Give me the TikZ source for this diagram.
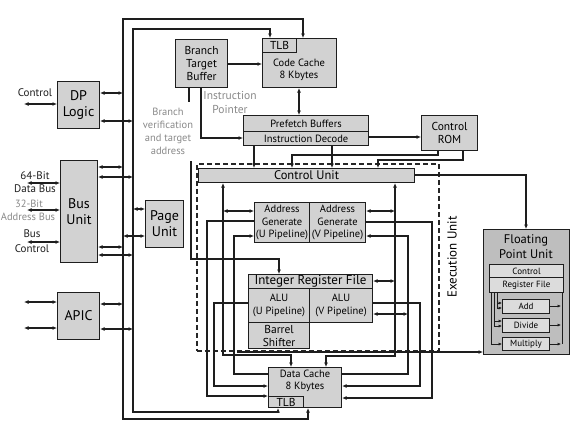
\documentclass[tikz,border=0pt]{standalone}
\usepackage{fontspec}
\setmainfont{PT Sans}
\usetikzlibrary{arrows.meta}
\definecolor{boxgray}{HTML}{D2D2D2}
\definecolor{fpugray}{HTML}{BEBEBE}
\definecolor{fpuin}{HTML}{DCDCDC}
\definecolor{lbl}{HTML}{8A8A8A}
\definecolor{ink}{HTML}{1E1E1E}
\begin{document}
\begin{tikzpicture}[x=1pt,y=-1pt,
  >={Latex[length=4.5pt,width=4pt]},
  line width=1.2pt, draw=ink,
  box/.style={draw=ink, fill=boxgray, line width=1.1pt, inner sep=0pt, align=center, anchor=north west},
  big/.style={font=\fontsize{14}{16}\selectfont},
  mid/.style={font=\fontsize{11.5}{13}\selectfont},
  sml/.style={font=\fontsize{10.5}{12.5}\selectfont},
  tiny/.style={font=\fontsize{9}{10}\selectfont},
  glabel/.style={text=lbl, align=center, inner sep=0pt, font=\fontsize{10.5}{13}\selectfont},
  dlabel/.style={text=ink, align=center, inner sep=0pt, font=\fontsize{11}{13}\selectfont},
  small>/.style={-{Latex[length=3.5pt,width=3.2pt]}}
]
\useasboundingbox[fill=white] (0,0) rectangle (583,432);

% ---------- left blocks ----------
\node[box,big,minimum width=42pt,minimum height=47pt] (dp) at (57,81) {DP\\Logic};
\node[box,big,minimum width=37pt,minimum height=102pt] (bus) at (60,160) {Bus\\Unit};
\node[box,big,minimum width=42pt,minimum height=47pt] (apic) at (57,292) {APIC};
\node[box,big,minimum width=38pt,minimum height=47pt] (page) at (145,200) {Page\\Unit};

% ---------- front end ----------
\node[box,mid,minimum width=52pt,minimum height=48pt] (btb) at (175,39) {Branch\\Target\\Buffer};
\node[box,minimum width=74pt,minimum height=49pt] (cc) at (262,38) {};
\node[box,mid,minimum width=34pt,minimum height=14pt] (ctlb) at (262,38) {TLB};
\node[sml,align=center] (cctext) at (299,70) {Code Cache\\8 Kbytes};
\node[box,sml,minimum width=125pt,minimum height=16pt] (pf) at (243,115) {Prefetch Buffers};
\node[box,sml,minimum width=125pt,minimum height=14pt] (idec) at (243,131) {Instruction Decode};
\node[box,mid,minimum width=56pt,minimum height=35pt] (rom) at (421,115) {Control\\ROM};

% ---------- execution unit ----------
\node[draw=black!85, dash pattern=on 5pt off 3pt, line width=1.6pt, anchor=north west,
      minimum width=242pt, minimum height=187pt, inner sep=0pt] (exec) at (196,163) {};
\node[rotate=90, font=\fontsize{13}{15}\selectfont] (execlbl) at (452,257) {Execution Unit};
\node[box,font=\fontsize{12.5}{14}\selectfont,minimum width=216pt,minimum height=14pt] (cu) at (198,168) {Control Unit};
\node[box,sml,minimum width=55pt,minimum height=40pt] (agu) at (254,202) {Address\\Generate\\(U Pipeline)};
\node[box,sml,minimum width=56pt,minimum height=40pt] (agv) at (309,202) {Address\\Generate\\(V Pipeline)};
\node[box,font=\fontsize{13}{15}\selectfont,minimum width=124pt,minimum height=14pt] (irf) at (248,274) {Integer Register File};
\node[box,sml,minimum width=61pt,minimum height=34pt] (aluu) at (248,288) {ALU\\(U Pipeline)};
\node[box,sml,minimum width=63pt,minimum height=34pt] (aluv) at (309,288) {ALU\\(V Pipeline)};
\node[box,mid,minimum width=61pt,minimum height=26pt] (bs) at (248,322) {Barrel\\Shifter};

% ---------- data cache ----------
\node[box,minimum width=73pt,minimum height=40pt] (dc) at (268,367) {};
\node[box,mid,minimum width=35pt,minimum height=11pt] (dtlb) at (268,396) {TLB};
\node[sml,align=center] (dctext) at (305,381) {Data Cache\\8 Kbytes};

% ---------- FPU ----------
\node[box,fill=fpugray,minimum width=86pt,minimum height=125pt] (fpu) at (483,229) {};
\node[font=\fontsize{12.5}{15}\selectfont,align=center] (fputext) at (526,247) {Floating\\Point Unit};
\node[box,fill=fpuin,tiny,minimum width=74pt,minimum height=13pt] (fctl) at (489,264) {Control};
\node[box,fill=fpuin,tiny,minimum width=74pt,minimum height=15pt] (freg) at (489,277) {Register File};
\node[box,fill=fpuin,tiny,minimum width=47pt,minimum height=14pt] (fadd) at (502,299) {Add};
\node[box,fill=fpuin,tiny,minimum width=47pt,minimum height=14pt] (fdiv) at (502,318) {Divide};
\node[box,fill=fpuin,tiny,minimum width=47pt,minimum height=13pt] (fmul) at (502,337) {Multiply};

% ---------- labels ----------
\node[dlabel] (lctl) at (35,93) {Control};
\node[dlabel] (l64) at (35,176) {64-Bit};
\node[dlabel] (ldb) at (35,189) {Data Bus};
\node[glabel] (l32) at (29,204) {32-Bit};
\node[glabel] (lab) at (28,217) {Address Bus};
\node[dlabel] (lbus) at (32,234) {Bus};
\node[dlabel] (lbc) at (32,249) {Control};
\node[glabel] (lbv) at (168,131) {Branch\\verification\\and target\\address};
\node[glabel,font=\fontsize{11.5}{14}\selectfont] (lip) at (230,102) {Instruction\\Pointer};

% ---------- system buses ----------
\draw[<->] (cc.north -| 303,0) -- (303,19) -- (123,19) -- (123,419) -- (308,419) -- (dc.south -| 308,0);
\draw[<->] (ctlb.north -| 270,0) -- (270,29) -- (133,29) -- (133,412) -- (278,412) -- (dtlb.south -| 278,0);

% ---------- left connectors ----------
\draw[<->] (dp.east |- 0,93) -- (123,93);
\draw[<->] (dp.east |- 0,121) -- (133,121);
\draw[<->] (24,104) -- (dp.west |- 0,104);
\draw[<->] (bus.east |- 0,167) -- (123,167);
\draw[<->] (bus.east |- 0,177) -- (133,177);
\draw[<->] (bus.east |- 0,247) -- (123,247);
\draw[<->] (bus.east |- 0,255) -- (133,255);
\draw[<->] (27,183) -- (bus.west |- 0,183);
\draw[<->] (27,210) -- (bus.west |- 0,210);
\draw[<->] (27,242) -- (bus.west |- 0,242);
\draw[<->] (24,302) -- (apic.west |- 0,302);
\draw[<->] (24,328) -- (apic.west |- 0,328);
\draw[<->] (apic.east |- 0,304) -- (123,304);
\draw[<->] (apic.east |- 0,329) -- (133,329);
\draw[<->] (133,209) -- (page.west |- 0,209);
\draw[<->] (123,236) -- (page.west |- 0,236);

% ---------- front end connectors ----------
\draw[->] (btb.east |- 0,64) -- (cc.west |- 0,64);
\draw (btb.south -| 189,0) -- (189,102);
\draw[->] (btb.south -| 201,0) -- (201,138) -- (idec.west |- 0,138);
\draw[<->] (cc.south -| 299,0) -- (pf.north -| 299,0);
\draw[->] (idec.east |- 0,137) -- (rom.west |- 0,137);
\draw[->] (idec.south -| 254,0) -- (cu.north -| 254,0);
\draw[->] (idec.south -| 332,0) -- (cu.north -| 332,0);
\draw[->] (rom.south -| 438,0) -- (438,155) -- (292,155) -- (cu.north -| 292,0);
\draw[->] (rom.south -| 463,0) -- (463,160) -- (378,160) -- (cu.north -| 378,0);
\draw[->] (cu.east |- 0,175) -- (526,175) -- (fpu.north -| 526,0);
\draw[->] (191,161) -- (191,259) -- (279,259) -- (irf.north -| 279,0);

% ---------- execution unit connectors (left) ----------
\draw[<->] (cu.south -| 223,0) -- (223,355) -- (291,355) -- (dc.north -| 291,0);
\draw[<->] (223,211) -- (agu.west |- 0,211);
\draw[->] (agu.west |- 0,221) -- (207,221) -- (207,396) -- (dc.west |- 0,396);
\draw[->] (aluu.west |- 0,303) -- (214,303) -- (214,386) -- (dc.west |- 0,386);
\draw[->] (dc.west |- 0,374) -- (234,374) -- (234,236) -- (agu.west |- 0,236);

% ---------- execution unit connectors (right) ----------
\draw[<->] (cu.south -| 395,0) -- (395,356) -- (326,356) -- (dc.north -| 326,0);
\draw[<->] (agv.east |- 0,211) -- (395,211);
\draw[<->] (irf.east |- 0,281) -- (395,281);
\draw[->] (agv.east |- 0,222) -- (432,222) -- (432,398) -- (dc.east |- 0,398);
\draw[->] (aluv.east |- 0,303) -- (420,303) -- (420,386) -- (dc.east |- 0,386);
\draw[->] (dc.east |- 0,374) -- (408,374) -- (408,236) -- (agv.east |- 0,236);
\draw[<->] (aluv.east |- 0,314) -- (408,314);
\draw[->] (237,352) -- (fpu.west |- 0,352);

% ---------- FPU internals ----------
\draw[small>, line width=1pt] (freg.south -| 491,0) -- (491,344) -- (fmul.west |- 0,344);
\draw[small>, line width=1pt] (freg.south -| 494,0) -- (494,326) -- (fdiv.west |- 0,326);
\draw[small>, line width=1pt] (494,321) -- (fdiv.west |- 0,321);
\draw[small>, line width=1pt] (freg.south -| 497,0) -- (497,308) -- (fadd.west |- 0,308);
\draw[small>, line width=1pt] (497,303) -- (fadd.west |- 0,303);
\draw[line width=1pt] (freg.south -| 562,0) -- (562,344);
\draw[small>, line width=1pt] (fadd.east |- 0,306) -- (561,306);
\draw[small>, line width=1pt] (fdiv.east |- 0,325) -- (561,325);
\draw[small>, line width=1pt] (fmul.east |- 0,344) -- (561,344);
\end{tikzpicture}
\end{document}
